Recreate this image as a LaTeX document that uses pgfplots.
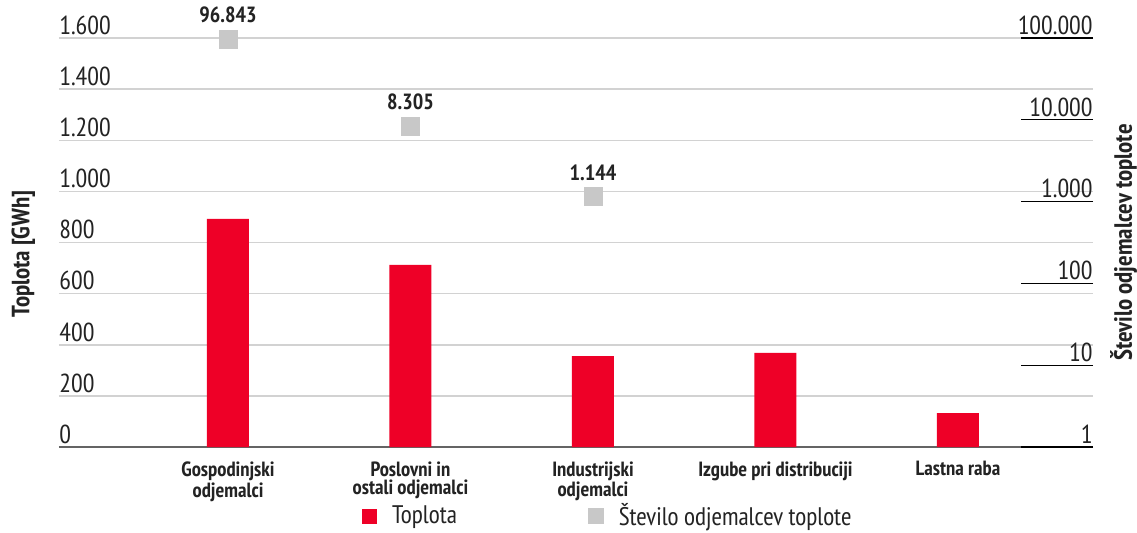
\documentclass[border=0pt]{standalone}
\usepackage{fontspec}
\setmainfont{PT Sans Narrow}
\usepackage{pgfplots}
\pgfplotsset{compat=1.18}
\definecolor{barred}{RGB}{238,0,39}
\definecolor{mkgray}{RGB}{200,200,200}
\definecolor{gridgray}{RGB}{210,210,210}
\definecolor{basegray}{RGB}{100,100,100}
\definecolor{txt}{RGB}{35,35,35}
\begin{document}
\begin{tikzpicture}[x=1pt,y=1pt]
\useasboundingbox (-29.5,-42.5) rectangle (539,223.5);
\begin{axis}[
  at={(0,0)}, anchor=south west,
  scale only axis, width=517pt, height=204.5pt,
  xmin=-0.926, xmax=4.74, ymin=0, ymax=1600,
  axis y line*=left, axis x line*=bottom,
  y axis line style={draw=none},
  x axis line style={basegray, line width=1pt, -},
  ytick={0,200,...,1600},
  yticklabels={0,200,400,600,800,1.000,1.200,1.400,1.600},
  major tick length=0pt,
  ymajorgrids, grid style={gridgray, line width=0.75pt},
  yticklabel style={anchor=south west, inner sep=0pt, yshift=1.5pt, font=\fontsize{13}{13}\selectfont, text=txt},
  xtick={0,1,2,3,4},
  xticklabels={Gospodinjski\\odjemalci, Poslovni in\\ostali odjemalci, Industrijski\\odjemalci, Izgube pri distribuciji, Lastna raba},
  xticklabel style={align=center, anchor=north, inner sep=0pt, font=\bfseries\fontsize{10.3}{9.2}\selectfont, text=txt, yshift=-7pt},
  ylabel={Toplota [GWh]},
  ylabel style={at={(axis description cs:-0.0345,0.472)}, anchor=center, font=\bfseries\fontsize{12.5}{12.5}\selectfont, text=txt},
  clip=false,
  legend columns=2,
  legend style={at={(0.287,-0.169)}, anchor=west, draw=none, fill=none,
    font=\fontsize{12.7}{12.7}\selectfont, text=txt,
    /tikz/every odd column/.append style={column sep=5.5pt},
    /tikz/every even column/.append style={column sep=63.5pt}},
]
\addplot[ybar, bar width=21pt, fill=barred, draw=none,
  legend image code/.code={\fill[barred] (0pt,-3.75pt) rectangle (7.5pt,3.75pt);}]
  coordinates {(0,892) (1,712) (2,356) (3,368) (4,133)};
\addlegendentry{Toplota}
\addlegendimage{legend image code/.code={\fill[mkgray] (0pt,-3.75pt) rectangle (7.5pt,3.75pt);}}
\addlegendentry{Število odjemalcev toplote}
\end{axis}
\begin{axis}[
  at={(0,0)}, anchor=south west,
  scale only axis, width=517pt, height=204.5pt,
  xmin=-0.926, xmax=4.74,
  ymode=log, ymin=1, ymax=100000,
  axis y line*=right, axis x line=none,
  y axis line style={draw=none},
  xtick=\empty,
  ytick={1,10,100,1000,10000,100000},
  yticklabels={1,10,100,1.000,10.000,100.000},
  yminorticks=false,
  tick align=inside, major tick length=36pt,
  ytick style={black, line width=0.6pt},
  yticklabel style={anchor=south east, inner sep=0pt, yshift=1.5pt, font=\fontsize{13}{13}\selectfont, text=txt},
  ylabel={Število odjemalcev toplote},
  ylabel style={at={(axis description cs:1.0295,0.5)}, anchor=center, font=\bfseries\fontsize{12.5}{12.5}\selectfont, text=txt},
  clip=false,
]
\addplot[mkgray, only marks, mark=square*, mark size=4.5pt, mark options={fill=mkgray, draw=mkgray},
  nodes near coords, point meta=explicit symbolic,
  nodes near coords style={font=\bfseries\fontsize{11}{11}\selectfont, anchor=south, inner sep=0pt, yshift=8pt, text=txt}]
  coordinates {(0,96843) [96.843] (1,8305) [8.305] (2,1144) [1.144]};
\end{axis}
\end{tikzpicture}
\end{document}
